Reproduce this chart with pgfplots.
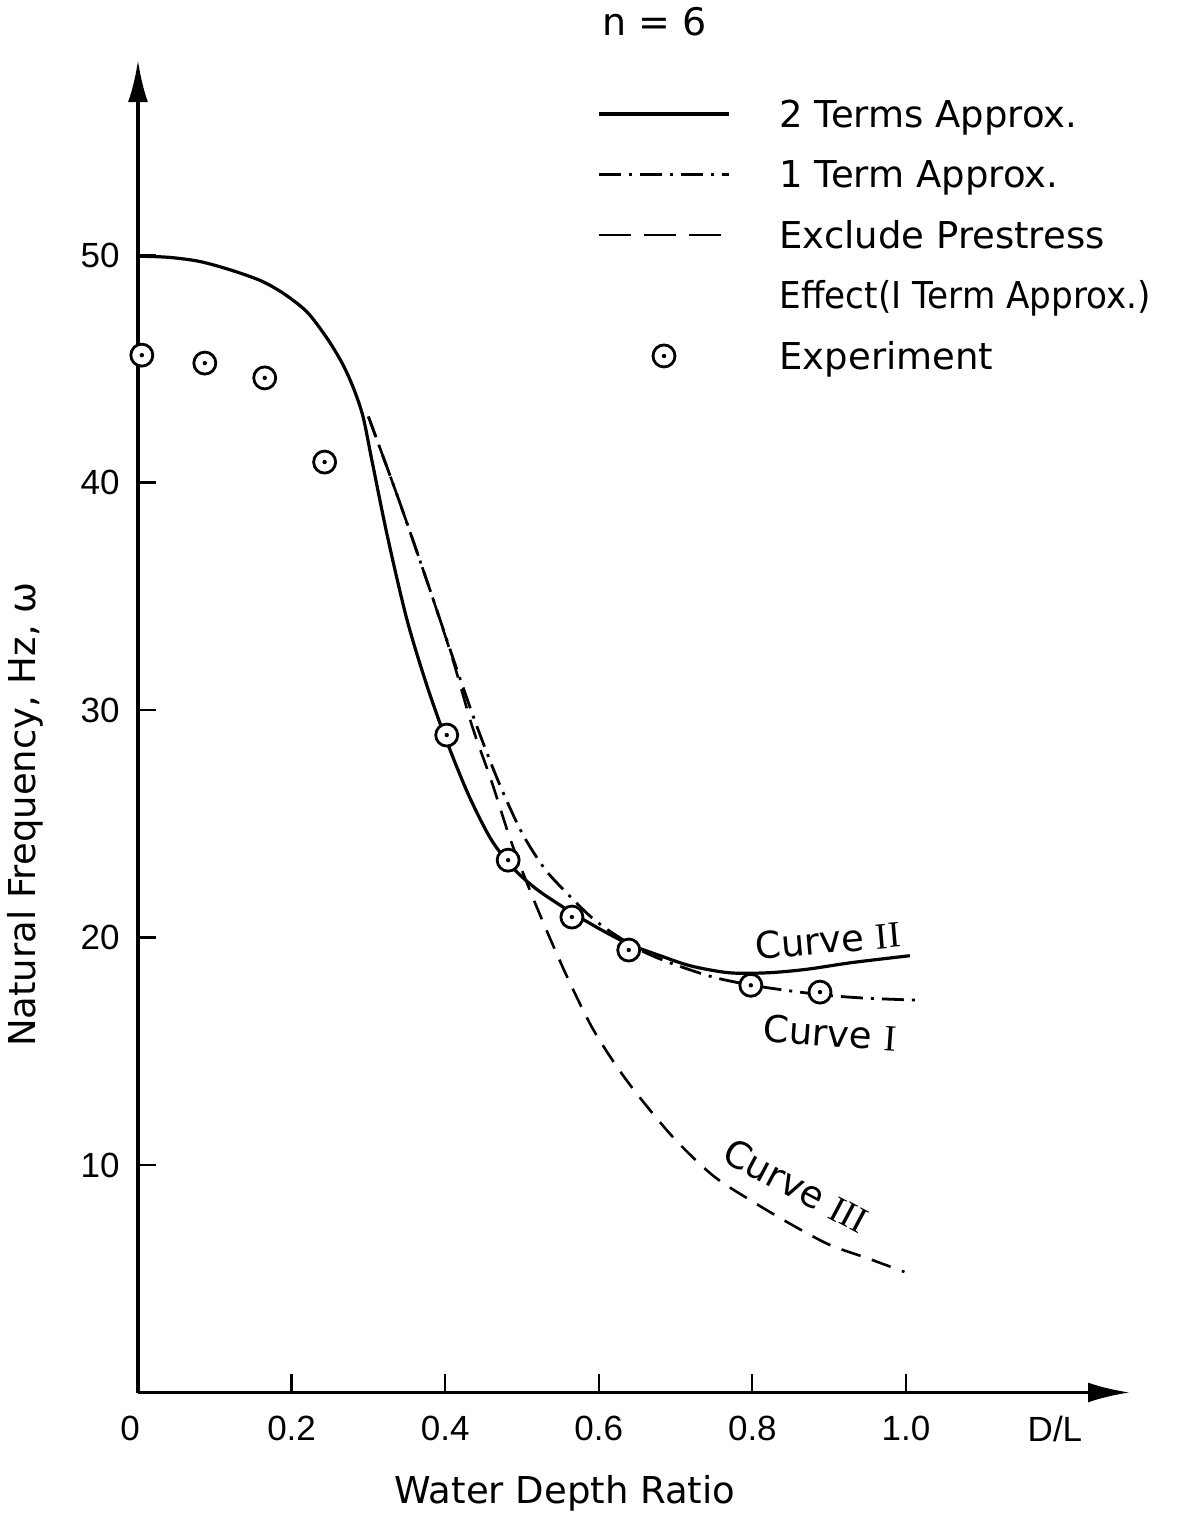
\documentclass[border=0pt]{standalone}
\usepackage{fontspec}
\setmainfont{DejaVu Sans}
\newfontfamily\arial{Liberation Sans}
\newfontfamily\rmn{Liberation Serif}
\usepackage{graphicx}
\usepackage{pgfplots}
\pgfplotsset{compat=1.18}
\usetikzlibrary{arrows.meta}

\newcommand\ff{\fontsize{18.5pt}{21pt}\selectfont}
\newcommand\tf{\arial\fontsize{17.5pt}{20pt}\selectfont}

\pgfdeclareplotmark{odot}{%
  \pgfpathcircle{\pgfpointorigin}{\pgfplotmarksize}%
  \pgfusepathqfillstroke
  \begin{pgfscope}%
  \pgfsetfillcolor{black}%
  \pgfpathcircle{\pgfpointorigin}{0.2\pgfplotmarksize}%
  \pgfusepathqfill
  \end{pgfscope}%
}

\pgfplotsset{
  linelegend/.style={legend image code/.code={\draw[##1] (0pt,0pt) -- (65pt,0pt);}},
  dashlegend/.style={legend image code/.code={\draw[##1, dash pattern=on 16pt off 6.5pt] (0pt,0pt) -- (65pt,0pt);}},
  marklegend/.style={legend image code/.code={\draw[mark repeat=2,mark phase=2,##1] plot coordinates {(0pt,0pt) (32.5pt,0pt) (65pt,0pt)};}},
}

\pgfplotstableread{
d v
0.000 49.95
0.040 49.9
0.080 49.72
0.120 49.35
0.160 48.87
0.190 48.3
0.220 47.5
0.245 46.4
0.265 45.3
0.280 44.2
0.293 42.9
0.305 40.9
0.325 37.6
0.350 34.0
0.375 31.2
0.400 28.8
0.430 26.3
0.460 24.3
0.490 23.0
0.520 22.1
0.560 21.2
0.600 20.4
0.640 19.7
0.680 19.2
0.720 18.75
0.770 18.45
0.820 18.45
0.870 18.6
0.930 18.9
1.005 19.2
}\curveII

\pgfplotstableread{
d v
0.300 42.9
0.340 39.2
0.380 35.3
0.410 32.3
0.440 29.4
0.470 26.8
0.500 24.6
0.530 23.0
0.560 21.9
0.590 20.9
0.620 20.15
0.660 19.35
0.700 18.8
0.750 18.25
0.800 17.9
0.850 17.65
0.900 17.45
0.950 17.33
1.012 17.25
}\curveI

\pgfplotstableread{
d v
0.300 42.9
0.340 39.2
0.380 35.3
0.410 32.2
0.435 29.3
0.460 26.9
0.485 24.3
0.510 22.1
0.536 20.0
0.5625 18.0
0.592 16.0
0.624 14.3
0.655 12.9
0.700 11.1
0.750 9.5
0.800 8.4
0.850 7.4
0.900 6.5
0.950 5.9
0.998 5.3
}\curveIII

\pgfplotstableread{
d v
0.005 45.6
0.087 45.25
0.165 44.6
0.243 40.9
0.402 28.9
0.482 23.4
0.565 20.9
0.639 19.45
0.798 17.9
0.888 17.6
}\experiment

\begin{document}
\begin{tikzpicture}
\begin{axis}[
  scale only axis,
  width=496pt, height=666.2pt,
  xmin=0, xmax=1.2917, ymin=0, ymax=58.57,
  axis lines=left,
  axis line style={line width=1.8pt},
  x axis line style={-{Latex[length=21pt,width=10pt]}},
  y axis line style={-{Latex[length=21pt,width=10pt]}},
  tick align=inside,
  major tick length=9pt,
  every tick/.style={line width=1.1pt, black},
  xtick={0.2,0.4,0.6,0.8,1.0},
  xticklabels={0.2,0.4,0.6,0.8,1.0},
  extra x ticks={0,1.194},
  extra x tick labels={0\hspace*{8pt},D/L},
  extra x tick style={major tick length=0pt},
  ytick={10,20,30,40,50},
  yticklabels={10,20,30,40,50},
  /pgf/number format/assume math mode=true,
  xticklabel style={anchor=center, yshift=-18pt, inner sep=0pt, font=\tf},
  yticklabel style={anchor=east, xshift=-9pt, inner sep=0pt, font=\tf},
  clip=false,
  xlabel={Water Depth Ratio},
  ylabel={Natural Frequency, Hz, ω},
  xlabel style={at={(axis description cs:0.4304,-0.0753)}, anchor=center, inner sep=0pt, font=\ff},
  ylabel style={at={(axis description cs:-0.1138,0.4337)}, anchor=center, inner sep=0pt, font=\ff},
  legend cell align=left,
  legend style={at={(axis description cs:0.4627,0.970)}, anchor=north west,
    draw=none, fill=none, inner sep=0pt, row sep=16.75pt,
    nodes={inner sep=0pt, text height=13.5pt, text depth=0pt, font=\ff},
    /tikz/every odd column/.append style={column sep=24.5pt}},
]
\coordinate (O) at (axis cs:0,0);

\addplot[black, line width=1.6pt, smooth, linelegend]
  table[x=d,y=v] {\curveII};
\addlegendentry{2 Terms Approx.}

\addplot[black, line width=1.4pt, smooth, dash pattern=on 11pt off 4pt on 1.5pt off 4pt, linelegend]
  table[x=d,y=v] {\curveI};
\addlegendentry{1 Term Approx.}

\addplot[black, line width=1.3pt, smooth, dash pattern=on 10pt off 6pt, dashlegend]
  table[x=d,y=v] {\curveIII};
\addlegendentry{Exclude Prestress}

\addlegendimage{empty legend}
\addlegendentry{\scalebox{0.925}[1]{Effect(I Term Approx.)}}

\addplot[only marks, mark=odot, mark size=5.5pt,
  mark options={draw=black, fill=white, line width=1.4pt}, marklegend]
  table[x=d,y=v] {\experiment};
\addlegendentry{Experiment}

\node[font=\fontsize{19pt}{21pt}\selectfont] at (axis cs:0.673,60.24) {n = 6};
\node[font=\ff, rotate=5] at (axis cs:0.898,19.9) {Curve {\rmn II}};
\node[font=\ff, rotate=-4] at (axis cs:0.901,15.8) {Curve {\rmn I}};
\node[font=\ff, rotate=-28] at (axis cs:0.857,9.1) {Curve {\rmn III}};
\end{axis}
\pgfresetboundingbox
\path[use as bounding box] ([shift={(-69pt,-61.25pt)}]O) rectangle ++(588.5pt,757.5pt);
\end{tikzpicture}
\end{document}
